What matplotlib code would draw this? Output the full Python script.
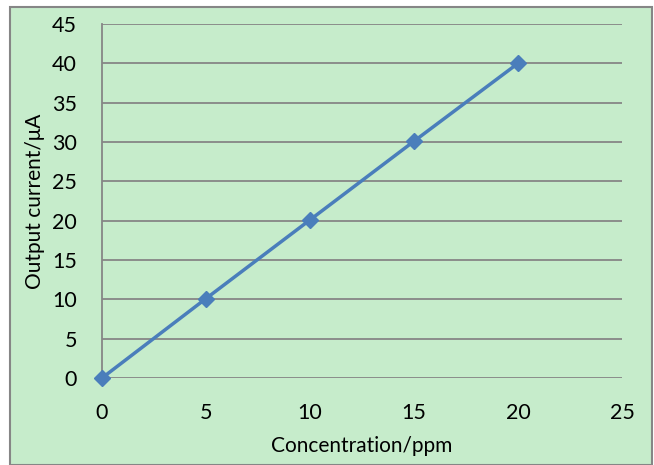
import matplotlib.pyplot as plt
from matplotlib.patches import Rectangle

# concentrazione (ppm) e corrente in uscita (uA)
concentration = [0, 5, 10, 15, 20]
current = [0, 10.1, 20.1, 30.1, 40]

x_ticks = [0, 5, 10, 15, 20, 25]
y_ticks = [0, 5, 10, 15, 20, 25, 30, 35, 40, 45]

bg = "#C6ECCB"
grid_col = "#868686"
line_col = "#4A7EBB"

plt.rcParams["font.family"] = ["Lato", "DejaVu Sans"]

W, H = 654, 465
fig = plt.figure(figsize=(W / 100, H / 100), dpi=100, facecolor="white")

# riquadro esterno del grafico
fig.patches.append(Rectangle((10 / W, 0), 642 / W, 1 - 7 / H, transform=fig.transFigure,
                             facecolor=bg, edgecolor=grid_col, linewidth=1.5, zorder=-10))

ax = fig.add_axes([102 / W, 1 - 378 / H, 520 / W, 354 / H])
ax.set_facecolor(bg)
ax.patch.set_alpha(0)

ax.plot(concentration, current, color=line_col, linewidth=2.5, marker="D",
        markersize=8.5, clip_on=False, zorder=3)

ax.set_xlim(0, 25)
ax.set_ylim(0, 45)
ax.set_xticks(x_ticks)
ax.set_yticks(y_ticks)
ax.tick_params(length=0, labelsize=15.5, colors="black")
ax.tick_params(axis="x", pad=18)
ax.tick_params(axis="y", pad=18)

ax.grid(True, axis="y", color=grid_col, linewidth=1.3)
ax.set_axisbelow(True)
for s in ["top", "right", "bottom"]:
    ax.spines[s].set_visible(False)
ax.spines["left"].set_color(grid_col)
ax.spines["left"].set_linewidth(1.3)

ax.set_xlabel("Concentration/ppm", fontsize=15, labelpad=9)
ax.set_ylabel("Output current/μA", fontsize=15, labelpad=5)

fig.savefig("out.png", dpi=100, facecolor="white")
